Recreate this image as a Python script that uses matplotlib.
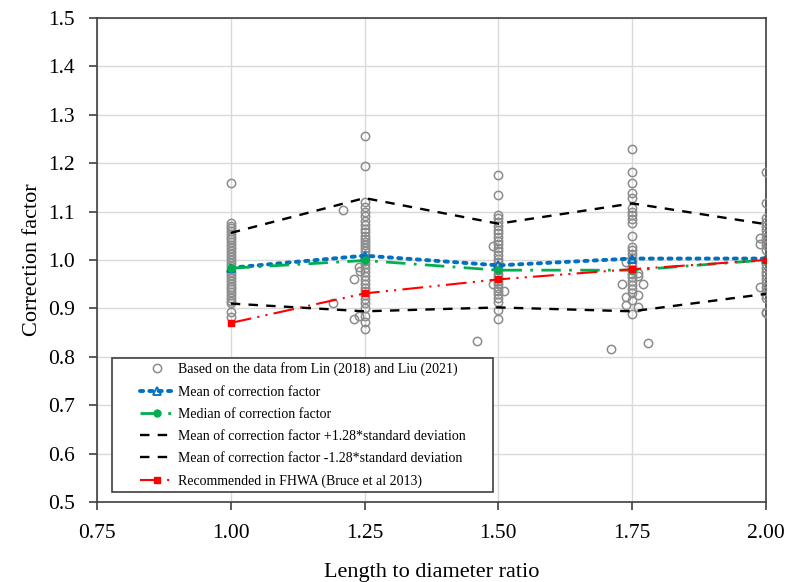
import matplotlib.pyplot as plt
from matplotlib.patches import Rectangle

plt.rcParams['font.family'] = ['Liberation Serif', 'DejaVu Serif']

# measured points (L/D, correction factor)
col_100 = [1.159, 1.077, 1.071, 1.066, 1.060, 1.054, 1.048, 1.043, 1.037, 1.030,
           1.024, 1.018, 1.012, 1.006, 1.000, 0.994, 0.988, 0.982, 0.976, 0.970,
           0.963, 0.957, 0.951, 0.945, 0.940, 0.934, 0.928, 0.922, 0.916, 0.912,
           0.892, 0.883]
col_125 = [1.256, 1.194, 1.119, 1.110, 1.100, 1.090, 1.080, 1.072, 1.064, 1.058,
           1.050, 1.044, 1.038, 1.032, 1.025, 1.018, 1.010, 1.004, 0.998, 0.992,
           0.984, 0.975, 0.966, 0.958, 0.950, 0.942, 0.935, 0.928, 0.920, 0.912,
           0.900, 0.885, 0.872, 0.858]
col_150 = [1.176, 1.135, 1.094, 1.086, 1.078, 1.070, 1.062, 1.055, 1.048, 1.040,
           1.033, 1.025, 1.018, 1.010, 1.002, 0.995, 0.988, 0.980, 0.972, 0.965,
           0.957, 0.950, 0.943, 0.936, 0.929, 0.921, 0.914, 0.896, 0.878]
col_175 = [1.230, 1.182, 1.160, 1.139, 1.129, 1.107, 1.100, 1.092, 1.084, 1.076,
           1.049, 1.027, 1.020, 1.012, 1.004, 0.996, 0.988, 0.980, 0.972, 0.964,
           0.956, 0.948, 0.940, 0.931, 0.918, 0.888]
col_200 = [1.182, 1.118, 1.086, 1.078, 1.070, 1.062, 1.054, 1.046, 1.038, 1.030,
           1.021, 1.000, 0.992, 0.984, 0.976, 0.968, 0.960, 0.952, 0.944, 0.936,
           0.928, 0.922, 0.892, 0.891]
# points that are not exactly on the 0.25 steps
off_x = [1.210, 1.240, 1.242, 1.230, 1.190, 1.240, 1.230,
         1.489, 1.489, 1.511, 1.460,
         1.739, 1.761, 1.761, 1.731, 1.771, 1.739, 1.761, 1.739, 1.761, 1.711, 1.780,
         1.989, 1.989, 1.989]
off_y = [1.103, 0.986, 0.978, 0.961, 0.912, 0.885, 0.879,
         1.029, 0.951, 0.936, 0.833,
         0.996, 0.973, 0.966, 0.950, 0.950, 0.924, 0.927, 0.906, 0.902, 0.817, 0.829,
         1.045, 1.033, 0.945]

ld = [1.00, 1.25, 1.50, 1.75, 2.00]
mean_cf = [0.984, 1.009, 0.989, 1.003, 1.003]
median_cf = [0.983, 0.999, 0.979, 0.979, 1.000]
upper_cf = [1.056, 1.128, 1.075, 1.117, 1.074]
lower_cf = [0.910, 0.894, 0.902, 0.894, 0.930]
fhwa_cf = [0.870, 0.931, 0.960, 0.981, 1.000]

scat_x = []
scat_y = []
for xv, col in zip(ld, [col_100, col_125, col_150, col_175, col_200]):
    scat_x += [xv] * len(col)
    scat_y += col
scat_x += off_x
scat_y += off_y

fig = plt.figure(figsize=(7.87, 5.82), dpi=100)
ax = fig.add_axes([0.1233, 0.1375, 0.85, 0.8315])

ax.plot(scat_x, scat_y, 'o', mfc='none', mec='#8c8c8c', ms=6, mew=1.1,
        label='Based on the data from Lin (2018) and Liu (2021)', zorder=3)
ax.plot(ld, mean_cf, color='#0070C0', ls=(0, (0.8, 1.6)), lw=2.8,
        dash_capstyle='round', marker='^', ms=6, mfc='none', mew=1.3,
        label='Mean of correction factor', zorder=4)
ax.plot(ld, median_cf, color='#00B050', ls=(0, (7, 3, 1, 3)), lw=2,
        marker='o', ms=5, label='Median of correction factor', zorder=4)
ax.plot(ld, upper_cf, color='black', ls=(0, (4, 3.5)), lw=1.7,
        label='Mean of correction factor +1.28*standard deviation', zorder=4)
ax.plot(ld, lower_cf, color='black', ls=(0, (4, 3.5)), lw=1.7,
        label='Mean of correction factor -1.28*standard deviation', zorder=4)
ax.plot(ld, fhwa_cf, color='#FF0000', ls=(0, (10, 3, 1, 3, 1, 3)), lw=1.5,
        marker='s', ms=5, label='Recommended in FHWA (Bruce et al 2013)', zorder=4)

ax.set_xlim(0.75, 2.00)
ax.set_ylim(0.5, 1.5)
ax.set_xticks([0.75, 1.00, 1.25, 1.50, 1.75, 2.00])
ax.set_xticklabels(['0.75', '1.00', '1.25', '1.50', '1.75', '2.00'])
ax.set_yticks([0.5, 0.6, 0.7, 0.8, 0.9, 1.0, 1.1, 1.2, 1.3, 1.4, 1.5])
ax.set_yticklabels(['0.5', '0.6', '0.7', '0.8', '0.9', '1.0', '1.1', '1.2', '1.3', '1.4', '1.5'])
ax.grid(True, color='#d9d9d9', lw=1)
ax.set_axisbelow(True)
for sp in ax.spines.values():
    sp.set_color('#404040')
    sp.set_linewidth(1.2)
ax.tick_params(direction='out', length=6, width=1.2, color='#404040',
               labelsize=15.5, pad=10)

ax.set_xlabel('Length to diameter ratio', fontsize=16, labelpad=14)
ax.set_ylabel('Correction factor', fontsize=16, labelpad=4)

# legend frame drawn separately (wider padding than matplotlib's)
box = Rectangle((0.0224, 0.0207), 0.570, 0.277, transform=ax.transAxes,
                facecolor='white', edgecolor='#404040', lw=1.2, zorder=5)
ax.add_patch(box)
leg = ax.legend(loc='lower left', bbox_to_anchor=(0.054, 0.015), fontsize=10,
                frameon=False, numpoints=1, handlelength=2.4, labelspacing=0.66,
                borderpad=0, handletextpad=0.3)
leg.set_zorder(6)

fig.savefig('out.png', dpi=100)
